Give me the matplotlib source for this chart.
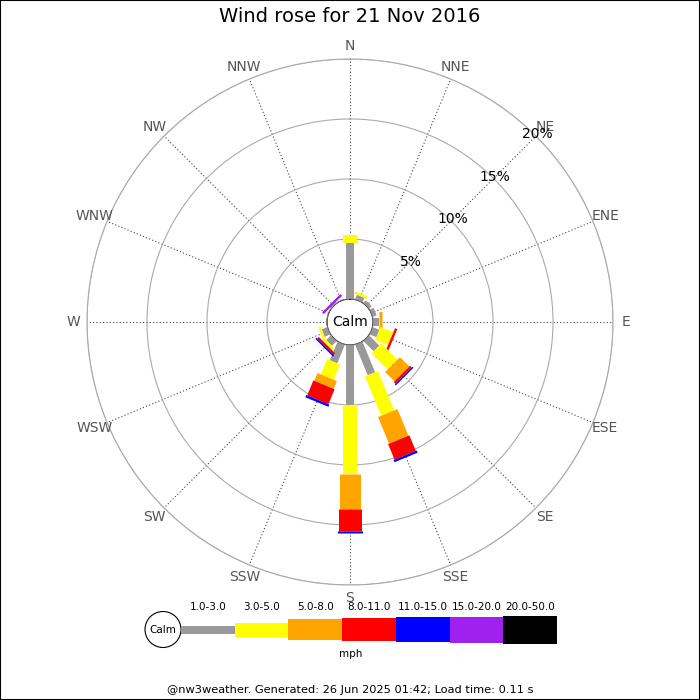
import numpy as np
import matplotlib
matplotlib.use('Agg')
import matplotlib.pyplot as plt
from matplotlib.patches import Circle, Rectangle

# Wind rose data: % of observations per direction and speed bin (mph)
directions = ['N', 'NNE', 'NE', 'ENE', 'E', 'ESE', 'SE', 'SSE',
              'S', 'SSW', 'SW', 'WSW', 'W', 'WNW', 'NW', 'NNW']
speed_bins = ['1.0-3.0', '3.0-5.0', '5.0-8.0', '8.0-11.0',
              '11.0-15.0', '15.0-20.0', '20.0-50.0']

f_1_3 = [4.67, 0.4, 0.3, 0.35, 0.5, 0.6, 1.2, 2.75, 5.0, 1.67, 0.55, 0.5, 0, 0, 0.1, 0]
f_3_5 = [0.66, 0.2, 0, 0, 0, 1.15, 1.9, 3.55, 5.75, 1.38, 0.25, 0.2, 0, 0, 0, 0]
f_5_8 = [0, 0, 0, 0, 0.25, 0, 1.1, 2.4, 2.92, 0.7, 0, 0, 0, 0, 0, 0]
f_8_11 = [0, 0, 0, 0, 0, 0.2, 0.2, 1.4, 1.83, 1.35, 0.2, 0, 0, 0, 0, 0]
f_11_15 = [0, 0, 0, 0, 0, 0, 0.12, 0.2, 0.2, 0.2, 0.12, 0, 0, 0, 0, 0]
f_15_20 = [0, 0, 0, 0, 0, 0, 0, 0, 0, 0, 0, 0, 0, 0, 0.2, 0]
f_20_50 = [0] * 16

freqs = [f_1_3, f_3_5, f_5_8, f_8_11, f_11_15, f_15_20, f_20_50]
rings = [5, 10, 15, 20]

colors = ['#999999', '#ffff00', '#ffa500', '#ff0000', '#0000ff', '#a020f0', '#000000']
widths = [8, 14, 21, 23, 25, 26, 28]   # bar thickness in px

dpi = 100
fig = plt.figure(figsize=(7, 7), dpi=dpi)
fig.patch.set_facecolor('white')

# polar plot: centre (350, 322) px, calm radius 23 px, 12 px per percent
cx, cy, calm_px, px_per = 350, 322, 23, 12
rmax = 20
R = calm_px + rmax * px_per
ax = fig.add_axes([(cx - R) / 700, 1 - (cy + R) / 700, 2 * R / 700, 2 * R / 700],
                  projection='polar')
ax.set_theta_zero_location('N')
ax.set_theta_direction(-1)
ax.set_ylim(0, rmax)
ax.set_rorigin(-calm_px / px_per)

angles = np.deg2rad(np.arange(16) * 22.5)
ax.set_xticks(angles)
ax.set_xticklabels([])
ax.set_yticks(rings)
ax.set_yticklabels([])
ax.xaxis.grid(True, linestyle=(0, (1, 2)), color='#444444', linewidth=0.8)
ax.yaxis.grid(True, linestyle='-', color='#aaaaaa', linewidth=0.8)
ax.spines['polar'].set_color('#aaaaaa')
ax.spines['polar'].set_linewidth(0.8)
ax.tick_params(length=0)

for i, th in enumerate(angles):
    cum = 0
    for j in range(len(speed_bins)):
        v = freqs[j][i]
        if v > 0:
            ax.plot([th, th], [cum, cum + v], color=colors[j],
                    linewidth=widths[j] * 72 / dpi, solid_capstyle='butt', zorder=3)
            cum += v

for th, lab in zip(angles, directions):
    ax.text(th, 21.1, lab, ha='center', va='center', color='#555555',
            fontsize=10, clip_on=False)

for r in rings:
    ax.text(np.pi / 4, r + 0.2, f'{r}%', ha='center', va='center',
            fontsize=10, color='black', zorder=5)

ax.add_artist(Circle((0.5, 0.5), calm_px / (2 * R), transform=ax.transAxes,
                     facecolor='white', edgecolor='#888888', linewidth=0.8, zorder=4))
ax.text(0.5, 0.5, 'Calm', transform=ax.transAxes, ha='center', va='center',
        fontsize=10, zorder=5)

# legend strip (pixel coordinates)
lax = fig.add_axes([0, 0, 1, 1])
lax.set_xlim(0, 700)
lax.set_ylim(700, 0)
lax.axis('off')
lax.add_patch(Circle((163, 629.5), 18, facecolor='white', edgecolor='black', linewidth=0.8))
lax.text(163, 630, 'Calm', ha='center', va='center', fontsize=7.5)
seg_w = 53.7
x0 = 181
for j, lab in enumerate(speed_bins):
    xs = x0 + j * seg_w
    h = widths[j]
    lax.add_patch(Rectangle((xs, 629.5 - h / 2), seg_w, h, facecolor=colors[j],
                            edgecolor='none'))
    lax.text(xs + seg_w / 2, 607, lab, ha='center', va='center', fontsize=7.5)
lax.text(351, 654, 'mph', ha='center', va='center', fontsize=7.5)

fig.text(0.5, 1 - 17 / 700, 'Wind rose for 21 Nov 2016', ha='center', va='center',
         fontsize=14)
fig.text(0.5, 1 - 690 / 700, '@nw3weather. Generated: 26 Jun 2025 01:42; Load time: 0.11 s',
         ha='center', va='center', fontsize=8.2)

fig.add_artist(Rectangle((0, 0), 1, 1, transform=fig.transFigure, fill=False,
                         edgecolor='black', linewidth=1.5))

fig.savefig('out.png', dpi=dpi)
